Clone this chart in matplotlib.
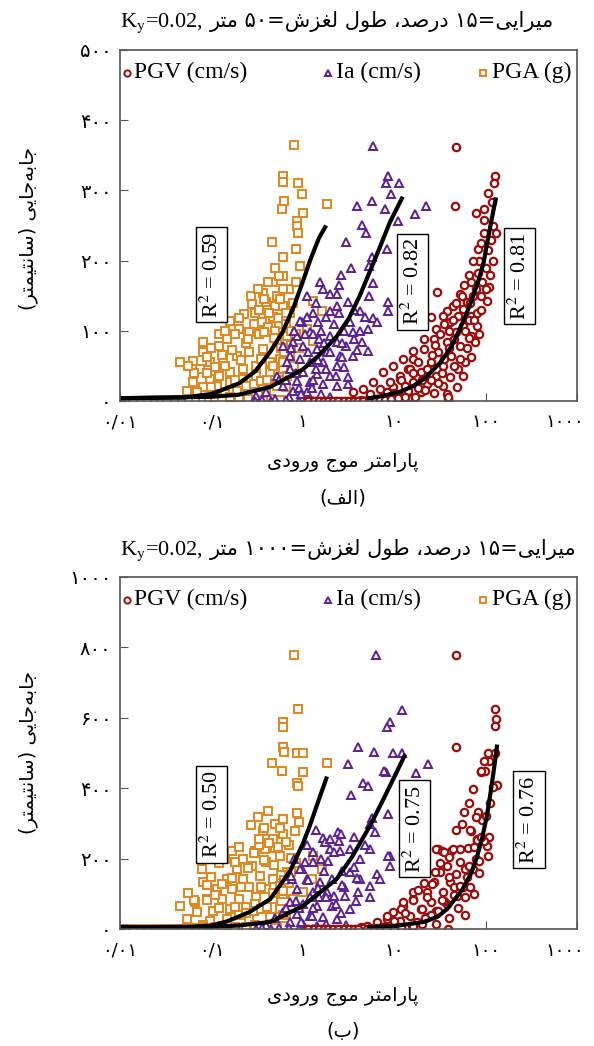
import re
import matplotlib
matplotlib.use("Agg")
import matplotlib.pyplot as plt
import matplotlib.transforms as mtransforms

plt.rcParams['mathtext.fontset'] = 'stix'

# ---------------- data ----------------
# panel (alef): slide length 50 m, y in cm
pga_top_x = [0.80, 0.61, 0.61, 0.885, 0.98, 0.62, 0.59, 1.0, 0.87, 0.87, 0.885, 0.46, 0.84, 0.61, 0.93, 0.61, 0.47, 0.37,
             1.84, 1.29, 1.62, 1.1, 1.29,
             0.28, 0.23, 0.16, 0.40, 0.52, 0.61, 0.72, 0.47, 0.36, 0.20, 0.26, 0.15, 0.12, 0.081, 0.081, 0.045, 0.063,
             0.097, 0.134, 0.19, 0.26, 0.37, 0.52, 0.67, 0.075, 0.097, 0.12, 0.16, 0.22, 0.31, 0.44, 0.56, 0.72, 0.063,
             0.081, 0.115, 0.16, 0.22, 0.31, 0.44, 0.61, 0.054, 0.07, 0.19, 0.26, 0.37, 0.52,
             0.33, 0.42, 0.55, 0.3, 0.5, 0.65, 0.24, 0.35, 0.14, 0.1, 0.14, 0.28, 0.4, 0.55, 0.68, 0.8, 0.9, 0.78, 0.7,
             0.55, 0.5, 0.6, 0.85,
             0.09, 0.11, 0.13, 0.17, 0.21, 0.25, 0.29, 0.33, 0.38, 0.43, 0.48, 0.53, 0.58, 0.63, 0.66, 0.75, 0.18,
             0.24, 0.29, 0.35, 0.41, 0.47, 0.6, 0.65, 0.2, 0.27, 0.32, 0.38, 0.42, 0.5, 0.57, 0.75, 0.85, 0.12, 0.065,
             0.055, 0.18, 0.14, 0.09, 0.1,
             0.012, 0.014, 0.017, 0.02, 0.024, 0.028, 0.033, 0.04, 0.048, 0.057, 0.068, 0.08, 0.095, 0.11, 0.13, 0.16,
             0.2, 0.25, 0.33, 0.45, 0.56]
pga_top_y = [364, 320, 312, 311, 295, 285, 274, 268, 257, 249, 240, 226, 217, 205, 192, 178, 169, 154,
             281, 142, 128, 102, 85,
             138, 124, 114, 141, 149, 135, 126, 119, 112, 102, 98, 88, 78, 84, 70, 55, 57,
             55, 60, 64, 70, 74, 84, 92, 45, 31, 36, 41, 45, 50, 55, 60, 64, 27,
             20, 21, 27, 31, 36, 41, 45, 14, 13, 14, 17, 20, 21,
             95, 105, 110, 125, 100, 110, 82, 60, 50, 20, 10, 8, 12, 30, 35, 50, 75, 140, 160,
             178, 135, 160, 170,
             40, 48, 66, 72, 58, 88, 110, 130, 98, 125, 90, 118, 75, 70, 125, 100, 30,
             22, 24, 28, 30, 50, 55, 20, 118, 150, 160, 145, 170, 190, 145, 80, 95, 95, 40,
             50, 95, 100, 62, 75,
             0, 0, 0, 0, 0, 0, 0, 0, 0, 0, 2, 3, 2, 4, 3, 5,
             4, 3, 2, 3, 2]

ia_top_x = [5.9, 8.55, 8.2, 11.3, 9.2, 5.7, 3.9, 7.9, 16.9, 22.3, 11, 4.4, 4.95, 3.0, 8.3, 5.7, 5.3, 2.6, 5.9, 1.55,
            1.67, 1.98, 2.35, 5.3, 8.5, 3.1, 2.35, 8.5, 4.2, 5.9, 0.98, 1.46, 3.3, 6.5, 5.2, 3.5, 1.2, 4.4, 5.2, 1.98,
            2.35, 3.0, 0.78, 1.0, 1.43, 1.84, 2.55, 3.55, 0.72, 0.93, 1.2, 1.66, 2.35, 3.1, 3.1, 0.72, 1.0, 1.43, 1.98,
            0.86, 1.2, 1.66, 0.61, 2.35, 0.78, 1.1,
            0.93, 0.87, 0.61, 0.67, 0.52, 0.4, 0.31,
            1.3, 1.8, 2.8, 1.5, 2.0, 2.8, 1.4, 0.55, 0.9, 1.6, 2.0, 0.7,
            0.8, 1.1, 1.3, 1.6, 2.2, 2.5, 3.6, 4.8, 4.2, 3.6, 2.7, 1.7, 1.15, 0.85, 1.3, 1.8, 2.3, 2.7, 3.9, 0.65,
            0.95, 1.25, 1.45, 1.05, 0.75, 2.0, 1.4, 1.1, 2.5, 3.4,
            0.0105, 0.011, 0.0118, 0.3, 0.36, 0.45, 0.5, 0.65, 0.9, 1.3]
ia_top_y = [363, 320, 311, 311, 295, 285, 278, 273, 267, 278, 257, 251, 239, 226, 217, 205, 192, 179, 168, 169,
            159, 153, 152, 149, 141, 141, 136, 128, 128, 118, 112, 112, 112, 112, 102, 99, 99, 84, 71, 92,
            84, 78, 84, 78, 74, 70, 64, 64, 64, 60, 55, 55, 50, 34, 24, 45, 41, 38, 36,
            28, 27, 24, 21, 21, 14, 13,
            114, 92, 78, 55, 36, 13, 7,
            125, 120, 100, 88, 70, 48, 45, 30, 18, 10, 5, 5,
            100, 120, 95, 100, 110, 125, 130, 120, 100, 88, 82, 82, 70, 40, 30, 45, 35, 62, 72, 30,
            10, 18, 58, 95, 75, 128, 140, 150, 165, 190,
            0, 0, 0, 0, 2, 0, 3, 1, 0, 0]

pgv_top_x = [47.4, 46, 127, 123, 107, 131, 118, 95, 78, 97, 122, 83, 110, 103, 29.4, 91,
             82, 70, 52, 73, 63, 44, 56, 38, 34, 50, 70, 41, 56, 81, 29, 47, 70, 27, 38, 52, 76, 21, 30, 42, 70, 16,
             25, 34, 50, 14, 19.5, 29, 41, 56, 11.5, 16, 22.6, 34, 48.5, 9.6, 14, 19.5, 27, 38, 8.3, 39,
             25, 21, 16, 12.6, 9.6, 14.8, 7.6, 11.6, 5.9, 9.0, 4.6, 7.0, 3.5, 5.4, 39,
             60, 65, 88, 100, 105, 115, 85, 45, 35, 60, 25, 18, 62,
             16, 18, 20, 23, 26, 28, 32, 35, 40, 44, 48, 55, 58, 65, 68, 72, 78, 80, 88, 90, 95, 100, 12, 13, 10, 22,
             30, 45, 52, 65, 85, 120, 112, 75, 40, 33,
             1.1, 1.25, 1.4, 1.6, 1.8, 2.0, 2.3, 2.6, 3.0, 3.4, 3.8, 4.3, 5.0, 5.7, 6.5, 7.5, 8.5, 10, 12, 14, 17,
             1.15, 1.33, 1.5, 1.7, 1.9, 2.15, 2.45, 2.8, 3.2, 3.6, 4.0, 4.6, 5.3, 6.1, 7.0, 8.0, 9.2, 11, 13]
pgv_top_y = [362, 278, 320, 311, 297, 240, 284, 273, 268, 258, 249, 216, 163, 142, 155, 169,
             183, 169, 152, 149, 141, 135, 131, 128, 121, 121, 121, 112, 107, 107, 102, 98, 92, 88, 84, 78, 84, 74, 70,
             64, 62, 60, 55, 50, 45, 45, 41, 36, 34, 36, 31, 27, 24, 21, 20, 20, 14, 13, 11, 10, 13, 3,
             119, 88, 71, 60, 50, 45, 41, 36, 27, 27, 17, 17, 13, 10, 6,
             100, 115, 150, 190, 215, 230, 200, 88, 60, 55, 30, 18, 75,
             40, 55, 30, 45, 65, 80, 95, 110, 100, 115, 140, 150, 165, 180, 140, 200, 160, 125, 130, 225, 240, 160,
             30, 22, 12, 15, 25, 50, 60, 90, 95, 200, 180, 115, 75, 40,
             0, 0, 0, 0, 0, 0, 0, 0, 0, 0, 0, 1, 2, 1, 3, 2, 4, 3, 5, 4, 6,
             0, 0, 0, 0, 0, 0, 0, 0, 0, 0, 0, 0, 0, 1, 2, 2, 3, 4, 5]

# fitted curves, panel (alef)
fit_pga_top_x = [0.01, 0.05, 0.1, 0.2, 0.3, 0.44, 0.6, 0.8, 1.0, 1.2, 1.5, 1.8]
fit_pga_top_y = [4, 5, 10, 25, 42, 70, 98, 135, 170, 200, 232, 250]
fit_ia_top_x = [0.01, 0.1, 0.2, 0.44, 1.0, 1.5, 2.35, 3.2, 4.2, 6.3, 9.0, 12.4]
fit_ia_top_y = [4, 6, 9, 20, 45, 65, 92, 118, 150, 205, 255, 291]
fit_pgv_top_x = [5, 8, 12, 16, 22, 32, 42, 52, 62, 73, 85, 95, 105, 115, 122, 130]
fit_pgv_top_y = [3, 8, 14, 21, 33, 55, 77, 102, 125, 149, 175, 197, 228, 255, 272, 290]

# panel (be): slide length 1000 m
pga_bot_x = [0.8, 0.885, 0.61, 0.61, 0.61, 0.62, 0.87, 1.0, 0.46, 0.59, 1.0, 0.87, 0.885, 0.87, 0.61, 0.9, 0.37, 0.47,
             0.61, 0.17, 0.3, 0.39, 0.079, 0.081, 0.045, 0.066, 1.84, 0.82, 1.29, 1.62, 1.25, 1.0, 0.78, 0.64,
             0.22, 0.28, 0.19, 0.4, 0.56, 0.67, 0.15, 0.22, 0.34, 0.47, 0.115, 0.17, 0.26, 0.4, 0.56, 0.089, 0.13,
             0.2, 0.31, 0.47, 0.07, 0.104, 0.16, 0.24, 0.37, 0.56, 0.054, 0.097, 0.15, 0.26, 0.44,
             0.33, 0.5, 0.7, 0.12, 0.3, 0.6, 0.7, 0.35, 0.2, 0.08, 0.15, 0.3, 0.45, 0.6, 0.9,
             0.09, 0.11, 0.13, 0.17, 0.21, 0.25, 0.29, 0.33, 0.38, 0.43, 0.48, 0.53, 0.58, 0.63, 0.66, 0.75, 0.18,
             0.24, 0.29, 0.35, 0.41, 0.47, 0.6, 0.65, 0.2, 0.27, 0.32, 0.38, 0.42, 0.5, 0.57, 0.75, 0.85, 0.12,
             0.065, 0.055, 0.18, 0.14, 0.09, 0.1,
             0.012, 0.014, 0.017, 0.02, 0.024, 0.028, 0.033, 0.04, 0.048, 0.057, 0.068, 0.08, 0.11, 0.13, 0.18, 0.24,
             0.35, 0.5]
pga_bot_y = [779, 626, 589, 575, 518, 504, 501, 501, 473, 448, 445, 416, 405, 329, 312, 303, 278, 255,
             269, 221, 221, 227, 170, 133, 65, 76, 473, 278, 207, 170, 142, 105, 85, 8,
             198, 178, 170, 190, 207, 161, 142, 142, 150, 142, 113, 113, 119, 113, 122, 85, 85,
             85, 91, 85, 48, 51, 57, 62, 57, 57, 28, 23, 28, 28, 34,
             240, 230, 240, 60, 70, 100, 130, 120, 40, 10, 12, 10, 15, 40, 60,
             82, 96, 128, 146, 118, 172, 215, 255, 196, 245, 182, 232, 152, 138, 248, 202, 62,
             46, 50, 58, 62, 102, 108, 42, 232, 296, 318, 288, 335, 298, 286, 162, 188, 188,
             82, 102, 190, 198, 124, 148,
             0, 0, 0, 0, 0, 0, 0, 0, 0, 0, 4, 6, 5, 8, 6, 5,
             4, 3]

ia_bot_x = [6.3, 12.2, 9.0, 8.3, 4.0, 6.0, 9.7, 12.2, 3.1, 23.5, 8.1, 17.3, 4.5, 5.2, 5.7, 8.5, 5.4, 6.2, 2.4, 2.6,
            1.66, 1.75, 1.98, 2.55, 3.3, 5.4, 1.29, 9.0, 9.0, 0.98, 1.9, 3.3, 4.2, 6.5, 7.0, 5.4, 4.0, 5.4, 2.9,
            1.1, 1.55, 2.1, 0.86, 1.29, 1.84, 0.72, 1.0, 1.43, 2.1, 3.3, 0.61, 0.86, 1.2, 1.66, 2.35, 0.72, 1.0, 1.43,
            0.93, 0.76, 7.8, 8.5,
            2.8, 1.5, 2.2, 3.8, 2.6, 1.2, 0.5, 0.9, 1.8, 3.0, 0.4,
            0.8, 1.1, 1.3, 1.6, 2.2, 2.5, 3.6, 4.8, 4.2, 3.6, 2.7, 1.7, 1.15, 0.85, 1.3, 1.8, 2.3, 2.7, 3.9, 0.65,
            0.95, 1.25, 1.45, 1.05, 0.75, 2.0, 1.4, 3.4,
            0.0105, 0.011, 0.0118, 0.31, 0.36, 0.45, 0.55, 0.7, 0.9, 1.3]
ia_bot_y = [779, 623, 589, 575, 518, 504, 501, 501, 470, 470, 445, 442, 416, 405, 314, 326, 297, 275, 275, 269,
            258, 246, 227, 221, 227, 227, 218, 207, 178, 170, 193, 161, 142, 156, 142, 122, 105, 91, 93,
            142, 133, 142, 113, 105, 105, 76, 71, 65, 65, 57, 48, 42, 37, 34, 28, 20, 14, 8,
            170, 142, 448, 207,
            120, 90, 95, 80, 45, 90, 30, 60, 15, 10, 10,
            200, 240, 190, 200, 220, 250, 260, 240, 200, 176, 164, 164, 140, 80, 60, 90, 70, 124, 144, 60,
            20, 36, 116, 190, 150, 256, 280, 380,
            0, 0, 0, 0, 3, 0, 4, 2, 0, 0]

pgv_bot_x = [48, 47, 127, 130, 127, 107, 127, 110, 88, 98, 132, 83, 70, 81, 110, 103, 107, 30, 42, 52, 64, 21, 39,
             38, 52, 73, 32, 47, 63, 27, 41, 56, 22.6, 34, 48.5, 16, 25, 38, 12.6, 19.5, 29, 9.6, 14.8, 22.6, 8.3,
             11.5, 17.6, 29,
             29, 33, 16, 12.6, 8.3, 6.5, 5.0, 4.3,
             60, 78, 92, 95, 68, 85, 45, 60, 35, 75, 50, 25, 40, 60, 20,
             16, 18, 20, 23, 26, 28, 32, 35, 40, 44, 48, 55, 58, 65, 68, 72, 78, 80, 88, 90, 95, 100, 12, 13, 10, 22,
             30, 45, 52, 65, 85, 120, 112, 75, 40, 33,
             1.1, 1.25, 1.4, 1.6, 1.8, 2.0, 2.3, 2.6, 3.0, 3.4, 3.8, 4.5, 5.5, 6.5, 7.5, 9, 11, 13, 16,
             1.15, 1.33, 1.5, 1.7, 1.9, 2.15, 2.45, 2.8, 3.2, 3.6, 4.0, 5.0, 6.0, 7.0, 8.2, 10, 12]
pgv_bot_y = [779, 518, 626, 598, 578, 501, 501, 476, 445, 448, 408, 331, 278, 255, 261, 235, 207, 227, 221, 227, 229,
             130, 0,
             178, 190, 170, 161, 156, 147, 133, 133, 119, 105, 105, 93, 85, 76, 71, 65, 57, 51, 48, 37, 34, 28,
             23, 20, 14,
             227, 221, 105, 76, 37, 20, 8, 5,
             170, 200, 310, 250, 120, 160, 120, 90, 80, 100, 60, 40, 30, 40, 15,
             82, 112, 58, 92, 128, 162, 188, 218, 204, 228, 282, 298, 332, 358, 282, 398, 318, 252, 262, 448, 478, 322,
             58, 46, 24, 32, 52, 98, 122, 178, 192, 402, 358, 232, 148, 82,
             0, 0, 0, 0, 0, 0, 0, 0, 0, 0, 0, 2, 3, 2, 5, 4, 6, 5, 8,
             0, 0, 0, 0, 0, 0, 0, 0, 0, 0, 0, 0, 1, 2, 3, 4, 6]

fit_pga_bot_x = [0.01, 0.06, 0.1, 0.15, 0.26, 0.44, 0.72, 1.0, 1.2, 1.5, 1.84]
fit_pga_bot_y = [5, 6, 10, 22, 48, 85, 163, 242, 295, 368, 433]
fit_ia_bot_x = [0.01, 0.1, 0.2, 0.44, 1.0, 2.35, 3.5, 5.4, 7.6, 10.6, 13.2]
fit_ia_bot_y = [5, 6, 10, 20, 65, 142, 207, 292, 368, 445, 496]
fit_pgv_bot_x = [5, 10, 21, 30, 38, 56, 70, 81, 92, 103, 113, 122, 128, 134]
fit_pgv_bot_y = [5, 8, 20, 35, 57, 113, 160, 207, 260, 320, 385, 445, 485, 524]

r2_top = ['0.59', '0.82', '0.81']
r2_bot = ['0.50', '0.75', '0.76']

x_ticks = [0.01, 0.1, 1, 10, 100, 1000]
x_ticklabels = ['۰/۰۱', '۰/۱', '۱', '۱۰', '۱۰۰', '۱۰۰۰']
y_ticks_top = [0, 100, 200, 300, 400, 500]
y_ticks_bot = [0, 200, 400, 600, 800, 1000]

title_top = 'میرایی=۱۵ درصد، طول لغزش=۵۰ متر'
title_bot = 'میرایی=۱۵ درصد، طول لغزش=۱۰۰۰ متر'
xlabel_fa = 'پارامتر موج ورودی'
ylabel_fa = 'جابه\u200cجایی (سانتیمتر)'
legend_labels = ['PGV (cm/s)', 'Ia (cm/s)', 'PGA (g)']

# ---------------- persian shaping (matplotlib has no bidi/shaping) ----------------
FORMS = {
    'ا': ('\uFE8D', '\uFE8E', None, None),
    'ب': ('\uFE8F', '\uFE90', '\uFE91', '\uFE92'),
    'پ': ('\uFB56', '\uFB57', '\uFB58', '\uFB59'),
    'ت': ('\uFE95', '\uFE96', '\uFE97', '\uFE98'),
    'ج': ('\uFE9D', '\uFE9E', '\uFE9F', '\uFEA0'),
    'د': ('\uFEA9', '\uFEAA', None, None),
    'ر': ('\uFEAD', '\uFEAE', None, None),
    'ز': ('\uFEAF', '\uFEB0', None, None),
    'س': ('\uFEB1', '\uFEB2', '\uFEB3', '\uFEB4'),
    'ش': ('\uFEB5', '\uFEB6', '\uFEB7', '\uFEB8'),
    'ص': ('\uFEB9', '\uFEBA', '\uFEBB', '\uFEBC'),
    'ط': ('\uFEC1', '\uFEC2', '\uFEC3', '\uFEC4'),
    'غ': ('\uFECD', '\uFECE', '\uFECF', '\uFED0'),
    'ف': ('\uFED1', '\uFED2', '\uFED3', '\uFED4'),
    'ل': ('\uFEDD', '\uFEDE', '\uFEDF', '\uFEE0'),
    'م': ('\uFEE1', '\uFEE2', '\uFEE3', '\uFEE4'),
    'ن': ('\uFEE5', '\uFEE6', '\uFEE7', '\uFEE8'),
    'ه': ('\uFEE9', '\uFEEA', '\uFEEB', '\uFEEC'),
    'و': ('\uFEED', '\uFEEE', None, None),
    'ی': ('\uFBFC', '\uFBFD', '\uFBFE', '\uFBFF'),
}
MIRROR = str.maketrans('()', ')(')
LTR = '0-9A-Za-z\u06F0-\u06F9./'


def shape(text):
    out = []
    for i, c in enumerate(text):
        if c not in FORMS:
            if c != '\u200c':
                out.append(c)
            continue
        prev = text[i - 1] if i > 0 else ''
        nxt = text[i + 1] if i + 1 < len(text) else ''
        jp = prev in FORMS and FORMS[prev][2] is not None
        jn = FORMS[c][2] is not None and nxt in FORMS
        isol, fin, ini, med = FORMS[c]
        if jp and jn:
            out.append(med)
        elif jp:
            out.append(fin)
        elif jn:
            out.append(ini)
        else:
            out.append(isol)
    return ''.join(out)


def fa(text):
    s = shape(text)
    parts = re.findall('[' + LTR + ']+|[^' + LTR + ']+', s)
    out = []
    for p in reversed(parts):
        if re.match('[' + LTR + ']', p):
            out.append(p)
        else:
            out.append(p[::-1].translate(MIRROR))
    return ''.join(out)


def fa_num(v):
    return str(v).translate(str.maketrans('0123456789', '۰۱۲۳۴۵۶۷۸۹'))


# ---------------- plotting ----------------
PGV_C = '#9e0b0b'
IA_C = '#5b1f97'
PGA_C = '#e3861c'
SERIF = ['Liberation Serif', 'DejaVu Serif']
FAF = ['DejaVu Sans']

fig = plt.figure(figsize=(5.94, 10.46), dpi=100)


def panel(rect, pga, ia, pgv, fits, r2, r2_pos, yticks):
    ax = fig.add_axes(rect)
    ax.set_xscale('log')
    ax.plot(pga[0], pga[1], ls='none', marker='s', ms=5.3, mfc='white', mec=PGA_C, mew=1.4)
    ax.plot(ia[0], ia[1], ls='none', marker='^', ms=5.3, mfc='white', mec=IA_C, mew=1.4)
    ax.plot(pgv[0], pgv[1], ls='none', marker='o', ms=5.3, mfc='white', mec=PGV_C, mew=1.6)
    for fx, fy in fits:
        ax.plot(fx, fy, color='black', lw=3, solid_capstyle='butt')
    for val, (px, py) in zip(r2, r2_pos):
        ax.text(px, py, r'R$^{2}$ = ' + val, rotation=90, ha='center', va='center',
                fontsize=16, family=SERIF, transform=ax.transAxes,
                bbox=dict(boxstyle='square,pad=0.2', fc='white', ec='black', lw=1))
    ax.set_xlim(0.01, 1000)
    ax.set_ylim(0, yticks[-1])
    ax.set_xticks(x_ticks)
    ax.set_xticklabels(x_ticklabels, family=FAF, fontsize=13)
    ax.minorticks_off()
    ax.set_yticks(yticks)
    ax.set_yticklabels([fa_num(v) for v in yticks], family=FAF, fontsize=14)
    ax.tick_params(direction='in', length=6, color='#555555', pad=6)
    ax.tick_params(axis='x', pad=9)
    # pull the last x label inwards so it stays on the page
    last = ax.xaxis.get_major_ticks()[-1].label1
    last.set_transform(last.get_transform() + mtransforms.ScaledTranslation(-9 / 72, 0, fig.dpi_scale_trans))
    for sp in ax.spines.values():
        sp.set_color('#555555')
        sp.set_linewidth(1.2)
    # legend row
    marks = [('o', PGV_C, 0.015, 0.031), ('^', IA_C, 0.455, 0.472), ('s', PGA_C, 0.795, 0.813)]
    for (m, c, mx, tx), lab in zip(marks, legend_labels):
        ax.plot([mx], [0.935], marker=m, ms=4.5, mfc='white', mec=c, mew=1.4, ls='none',
                transform=ax.transAxes, clip_on=False)
        ax.text(tx, 0.935, lab, ha='left', va='center', fontsize=17, family=SERIF, transform=ax.transAxes)
    return ax


L, W = 120 / 594, 457 / 594
ax1 = panel([L, 1 - 401 / 1046, W, 351 / 1046],
            (pga_top_x, pga_top_y), (ia_top_x, ia_top_y), (pgv_top_x, pgv_top_y),
            [(fit_pga_top_x, fit_pga_top_y), (fit_ia_top_x, fit_ia_top_y), (fit_pgv_top_x, fit_pgv_top_y)],
            r2_top, [(0.2, 0.36), (0.64, 0.34), (0.875, 0.355)], y_ticks_top)
ax2 = panel([L, 1 - 929 / 1046, W, 352 / 1046],
            (pga_bot_x, pga_bot_y), (ia_bot_x, ia_bot_y), (pgv_bot_x, pgv_bot_y),
            [(fit_pga_bot_x, fit_pga_bot_y), (fit_ia_bot_x, fit_ia_bot_y), (fit_pgv_bot_x, fit_pgv_bot_y)],
            r2_bot, [(0.2, 0.325), (0.645, 0.285), (0.895, 0.31)], y_ticks_bot)

# titles: latin part on the left, persian part to its right
for ty, t in [(1 - 27 / 1046, title_top), (1 - 555 / 1046, title_bot)]:
    fig.text(203 / 594, ty, r'K$_{\mathrm{y}}$=0.02,', ha='right', va='baseline', fontsize=16, family=SERIF)
    fig.text(210 / 594, ty, fa(t), ha='left', va='baseline', fontsize=15, family=FAF)

for ly, py, lab in [(1 - 462 / 1046, 1 - 498 / 1046, '(الف)'), (1 - 996 / 1046, 1 - 1031 / 1046, '(ب)')]:
    fig.text(343 / 594, ly, fa(xlabel_fa), ha='center', va='center', fontsize=14, family=FAF)
    fig.text(343 / 594, py, fa(lab), ha='center', va='center', fontsize=14, family=FAF)

for cy in [1 - 228 / 1046, 1 - 752 / 1046]:
    fig.text(28 / 594, cy, fa(ylabel_fa), rotation=90, ha='center', va='center', fontsize=14, family=FAF)

fig.savefig('out.png', dpi=100)
